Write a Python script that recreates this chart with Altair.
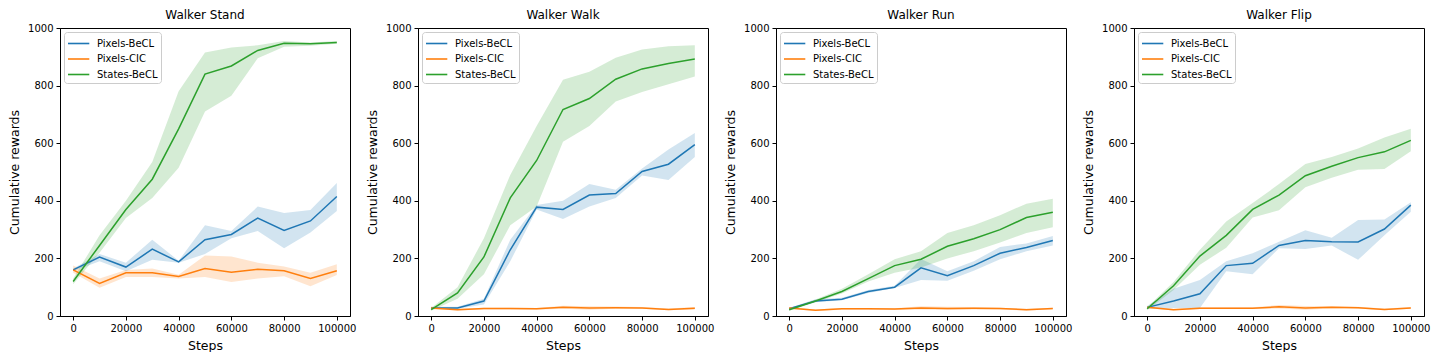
import altair as alt
import pandas as pd

steps = [0, 10000, 20000, 30000, 40000, 50000, 60000, 70000, 80000, 90000, 100000]
tasks = ["Walker Stand", "Walker Walk", "Walker Run", "Walker Flip"]
methods = ["Pixels-BeCL", "Pixels-CIC", "States-BeCL"]
colors = ["#1f77b4", "#ff7f0e", "#2ca02c"]

# Walker Stand
stand_pb_mean = [160, 205, 170, 232, 188, 265, 283, 340, 297, 330, 415]
stand_pb_lo = [155, 190, 155, 195, 185, 215, 270, 295, 235, 290, 365]
stand_pb_hi = [165, 215, 185, 265, 192, 315, 295, 380, 358, 368, 462]
stand_pc_mean = [160, 113, 150, 150, 137, 165, 152, 162, 157, 130, 157]
stand_pc_lo = [150, 98, 135, 135, 130, 135, 118, 130, 138, 103, 142]
stand_pc_hi = [175, 130, 160, 165, 143, 210, 207, 185, 172, 150, 180]
stand_sb_mean = [120, 245, 370, 475, 650, 840, 868, 922, 947, 945, 950]
stand_sb_lo = [110, 220, 340, 410, 515, 710, 765, 895, 935, 938, 945]
stand_sb_hi = [130, 280, 400, 535, 780, 915, 932, 940, 955, 950, 955]

# Walker Walk
walk_pb_mean = [28, 28, 52, 230, 378, 370, 420, 425, 502, 527, 595]
walk_pb_lo = [25, 25, 40, 190, 370, 337, 380, 410, 488, 472, 552]
walk_pb_hi = [32, 32, 60, 265, 385, 400, 458, 438, 512, 578, 635]
walk_pc_mean = [28, 22, 26, 26, 25, 30, 28, 29, 28, 23, 27]
walk_pc_lo = [24, 19, 23, 23, 22, 25, 22, 25, 25, 20, 23]
walk_pc_hi = [32, 25, 29, 29, 28, 36, 34, 33, 31, 26, 31]
walk_sb_mean = [22, 80, 205, 410, 540, 717, 755, 822, 858, 877, 892]
walk_sb_lo = [18, 60, 145, 315, 380, 605, 660, 745, 778, 805, 832]
walk_sb_hi = [28, 100, 270, 490, 660, 820, 848, 897, 925, 937, 940]

# Walker Run
run_pb_mean = [25, 52, 58, 85, 100, 167, 140, 175, 218, 238, 262]
run_pb_lo = [22, 48, 55, 80, 97, 125, 122, 157, 197, 225, 245]
run_pb_hi = [28, 58, 63, 90, 105, 198, 155, 190, 240, 252, 278]
run_pc_mean = [28, 20, 25, 25, 24, 28, 26, 27, 26, 22, 26]
run_pc_lo = [25, 17, 22, 22, 21, 23, 21, 23, 23, 19, 23]
run_pc_hi = [31, 23, 28, 28, 27, 34, 32, 31, 29, 25, 29]
run_sb_mean = [22, 52, 85, 130, 175, 197, 242, 268, 300, 342, 360]
run_sb_lo = [18, 48, 78, 120, 150, 168, 200, 225, 255, 288, 308]
run_sb_hi = [26, 57, 95, 145, 197, 225, 288, 315, 350, 390, 407]

# Walker Flip
flip_pb_mean = [30, 52, 77, 175, 183, 245, 262, 258, 257, 302, 385]
flip_pb_lo = [25, 28, 28, 155, 145, 235, 233, 245, 195, 280, 362]
flip_pb_hi = [35, 95, 125, 190, 218, 258, 298, 272, 333, 335, 395]
flip_pc_mean = [30, 22, 27, 27, 27, 32, 28, 30, 29, 23, 28]
flip_pc_lo = [27, 19, 24, 24, 24, 26, 22, 26, 26, 20, 25]
flip_pc_hi = [33, 25, 30, 30, 30, 38, 35, 34, 32, 26, 31]
flip_sb_mean = [25, 105, 208, 280, 370, 420, 487, 520, 550, 570, 610]
flip_sb_lo = [20, 90, 178, 237, 342, 367, 447, 480, 508, 510, 572]
flip_sb_hi = [30, 118, 230, 328, 392, 458, 528, 552, 582, 620, 650]

series = {
    "Walker Stand": [
        (stand_pb_mean, stand_pb_lo, stand_pb_hi),
        (stand_pc_mean, stand_pc_lo, stand_pc_hi),
        (stand_sb_mean, stand_sb_lo, stand_sb_hi),
    ],
    "Walker Walk": [
        (walk_pb_mean, walk_pb_lo, walk_pb_hi),
        (walk_pc_mean, walk_pc_lo, walk_pc_hi),
        (walk_sb_mean, walk_sb_lo, walk_sb_hi),
    ],
    "Walker Run": [
        (run_pb_mean, run_pb_lo, run_pb_hi),
        (run_pc_mean, run_pc_lo, run_pc_hi),
        (run_sb_mean, run_sb_lo, run_sb_hi),
    ],
    "Walker Flip": [
        (flip_pb_mean, flip_pb_lo, flip_pb_hi),
        (flip_pc_mean, flip_pc_lo, flip_pc_hi),
        (flip_sb_mean, flip_sb_lo, flip_sb_hi),
    ],
}

rows = []
for task in tasks:
    for method, (m, lo, hi) in zip(methods, series[task]):
        for s, a, b, c in zip(steps, m, lo, hi):
            rows.append({"task": task, "method": method, "step": s, "mean": a, "lo": b, "hi": c})
df = pd.DataFrame(rows)

FONT = "DejaVu Sans"
x_scale = alt.Scale(domain=[-5000, 105000], nice=False, zero=False)
y_scale = alt.Scale(domain=[0, 1000], nice=False)
x_axis = alt.Axis(values=[0, 20000, 40000, 60000, 80000, 100000], format="d", title="Steps")
y_axis = alt.Axis(values=[0, 200, 400, 600, 800, 1000], format="d", title="Cumulative rewards")


def panel(task):
    base = alt.Chart(df[df.task == task])
    layers = []
    for m, c in zip(methods, colors):
        layers.append(
            base.transform_filter(alt.datum.method == m)
            .mark_area(opacity=0.2, color=c)
            .encode(
                x=alt.X("step:Q", scale=x_scale, axis=x_axis),
                y=alt.Y("lo:Q", scale=y_scale, axis=y_axis),
                y2="hi:Q",
            )
        )
    line = base.mark_line(strokeWidth=1.5).encode(
        x=alt.X("step:Q", scale=x_scale, axis=x_axis),
        y=alt.Y("mean:Q", scale=y_scale, axis=y_axis),
        color=alt.Color(
            "method:N",
            scale=alt.Scale(domain=methods, range=colors),
            title=None,
            legend=alt.Legend(orient="top-left", offset=4),
        ),
    )
    layers.append(line)
    return alt.layer(*layers).properties(width=290, height=288, title=task)


chart = (
    alt.hconcat(*[panel(t) for t in tasks], spacing=9)
    .resolve_scale(color="independent")
    .resolve_legend(color="independent")
    .properties(padding=0)
    .configure_view(stroke="black", strokeWidth=1)
    .configure_axis(
        grid=False,
        domainColor="black",
        tickColor="black",
        tickSize=4,
        labelPadding=3,
        labelFont=FONT,
        labelFontSize=10,
        labelColor="black",
        titleFont=FONT,
        titleFontSize=12.5,
        titleFontWeight="normal",
        titleColor="black",
        titlePadding=6,
    )
    .configure_title(font=FONT, fontSize=12, fontWeight="normal", color="black", offset=1)
    .configure_legend(
        labelFont=FONT,
        labelFontSize=10,
        labelColor="black",
        symbolType="M-1,0H1.84",
        symbolSize=225,
        symbolStrokeWidth=1.6,
        labelOffset=13,
        rowPadding=1.5,
        padding=3,
        strokeColor="#cccccc",
        fillColor="rgba(255,255,255,0.8)",
        cornerRadius=3,
    )
)

chart.save("out.html", embed_options={"renderer": "svg", "actions": False})
